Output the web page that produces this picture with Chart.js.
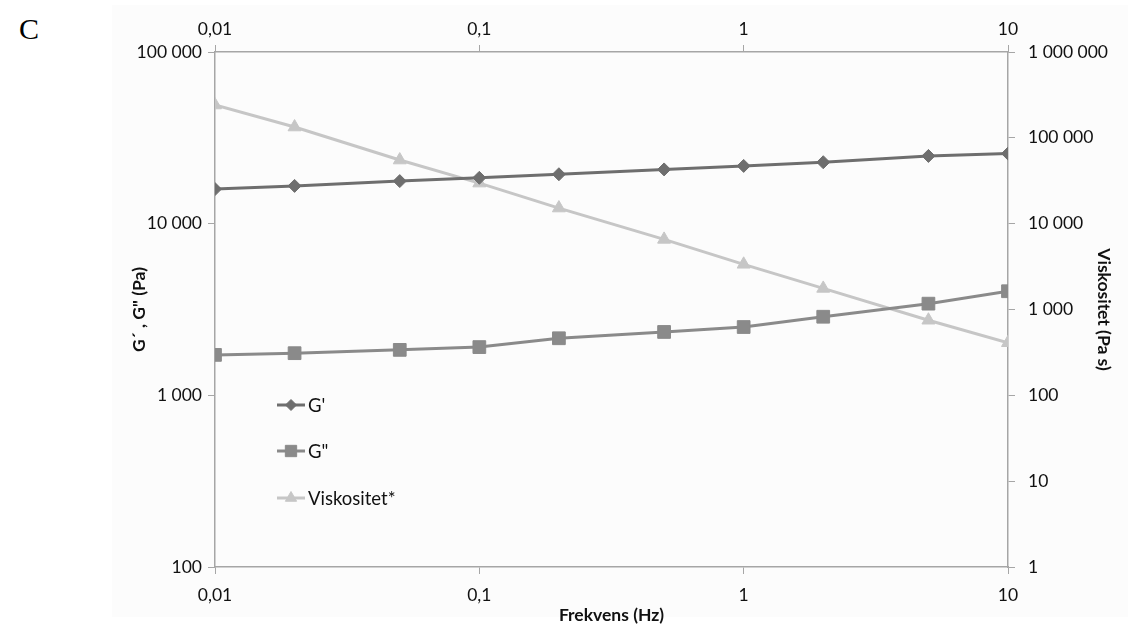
<!DOCTYPE html>
<html>
<head>
<meta charset="utf-8">
<script src="https://cdn.jsdelivr.net/npm/chart.js@4/dist/chart.umd.min.js"></script>
<style>
    body { margin: 0; background: #ffffff; width: 1128px; height: 624px; overflow: hidden; position: relative; }
    #panel { position: absolute; left: 112px; top: 5px; width: 1016px; height: 612px; background: #fcfcfc; }
    #letter { position: absolute; left: 19px; top: 12px; font-family: 'Liberation Serif', serif; font-size: 30px; color: #000; }
    #chart { position: absolute; left: 0; top: 0; }
</style>
</head>
<body>
<div id="panel"></div>
<div id="letter">C</div>
<canvas id="chart" width="1128" height="624"></canvas>
<script>
// frequency sweep, Hz
const frekvens = [0.01, 0.02, 0.05, 0.1, 0.2, 0.5, 1, 2, 5, 10];
// storage modulus G' (Pa)
const gPrime = [15900, 16600, 17700, 18500, 19400, 20700, 21700, 22800, 24800, 25600];
// loss modulus G" (Pa)
const gDouble = [1720, 1760, 1840, 1910, 2150, 2340, 2500, 2870, 3420, 4040];
// complex viscosity (Pa s)
const viskositet = [241000, 133600, 55100, 29700, 15200, 6560, 3360, 1760, 750, 410];

const xTicks = [0.01, 0.1, 1, 10];
const yLeftTicks = [100, 1000, 10000, 100000];
const yRightTicks = [1, 10, 100, 1000, 10000, 100000, 1000000];

const fontFamily = 'Lato, "Open Sans", sans-serif';
const labelFont = { family: fontFamily, size: 17.5 };
const titleFont = { family: fontFamily, size: 17.5, weight: 'bold', lineHeight: 1 };
const axisColor = '#a6a6a6';

function formatNumber(v) {
    if (v < 1) return String(v).replace('.', ',');
    return String(Math.round(v)).replace(/\B(?=(\d{3})+(?!\d))/g, ' ');
}

function points(values) {
    return frekvens.map((f, i) => ({ x: f, y: values[i] }));
}

function logAxis(position, min, max, tickValues, pad, extra) {
    return Object.assign({
        type: 'logarithmic',
        position: position,
        min: min,
        max: max,
        afterBuildTicks: scale => {
            scale.ticks = tickValues.map(v => ({ value: v }));
        },
        ticks: {
            color: '#111',
            font: labelFont,
            padding: pad,
            autoSkip: false,
            maxRotation: 0,
            callback: v => formatNumber(v)
        },
        grid: {
            drawOnChartArea: false,
            drawTicks: true,
            tickLength: 7,
            color: axisColor
        },
        border: { color: axisColor, width: 1.5 }
    }, extra);
}

const series = [
    { label: "G'", data: gPrime, color: '#6e6e6e', style: 'rectRot', radius: 6.5, axis: 'y' },
    { label: 'G"', data: gDouble, color: '#8a8a8a', style: 'rect', radius: 9, axis: 'y' },
    { label: 'Viskositet*', data: viskositet, color: '#c6c6c6', style: 'triangle', radius: 7.5, axis: 'y2' }
];

// legend drawn inside the plot area, like the original
const insideLegend = {
    id: 'insideLegend',
    afterDraw(chart) {
        const ctx = chart.ctx;
        const area = chart.chartArea;
        const x0 = area.left + 62;
        const rows = [405, 451, 498];
        ctx.save();
        series.forEach((s, i) => {
            const y = rows[i];
            ctx.strokeStyle = s.color;
            ctx.lineWidth = 3;
            ctx.beginPath();
            ctx.moveTo(x0, y);
            ctx.lineTo(x0 + 28, y);
            ctx.stroke();
            ctx.fillStyle = s.color;
            ctx.strokeStyle = s.color;
            ctx.lineWidth = 1;
            Chart.helpers.drawPoint(ctx, { pointStyle: s.style, radius: s.radius - 1, rotation: 0, borderWidth: 1 }, x0 + 14, y);
            ctx.fillStyle = '#111';
            ctx.font = '18.5px ' + fontFamily;
            ctx.textAlign = 'left';
            ctx.textBaseline = 'middle';
            ctx.fillText(s.label, x0 + 31, y + 1);
        });
        ctx.restore();
    }
};

new Chart(document.getElementById('chart'), {
    type: 'line',
    data: {
        datasets: series.map(s => ({
            label: s.label,
            data: points(s.data),
            yAxisID: s.axis,
            xAxisID: 'x',
            borderColor: s.color,
            backgroundColor: s.color,
            borderWidth: 3,
            pointStyle: s.style,
            pointRadius: s.radius,
            pointBorderWidth: 1,
            tension: 0
        }))
    },
    options: {
        responsive: false,
        animation: false,
        layout: { padding: { left: 131, right: 16, top: 0, bottom: 0 } },
        plugins: { legend: { display: false }, tooltip: { enabled: false } },
        scales: {
            x: logAxis('bottom', 0.01, 10, xTicks, 11, {
                title: { display: true, text: 'Frekvens (Hz)', color: '#111', font: titleFont, padding: { top: 4, bottom: 0 } },
                afterFit: s => { s.height = 57; }
            }),
            x2: logAxis('top', 0.01, 10, xTicks, 5, {
                afterFit: s => { s.height = 52; }
            }),
            y: logAxis('left', 100, 100000, yLeftTicks, 6, {
                title: { display: true, text: 'G´ , G" (Pa)', color: '#111', font: titleFont, padding: 0 },
                afterFit: s => { s.width = 84; }
            }),
            y2: logAxis('right', 1, 1000000, yRightTicks, 13, {
                title: { display: true, text: 'Viskositet (Pa s)', color: '#111', font: titleFont, padding: 0 },
                afterFit: s => { s.width = 104; }
            })
        }
    },
    plugins: [insideLegend]
});
</script>
</body>
</html>
